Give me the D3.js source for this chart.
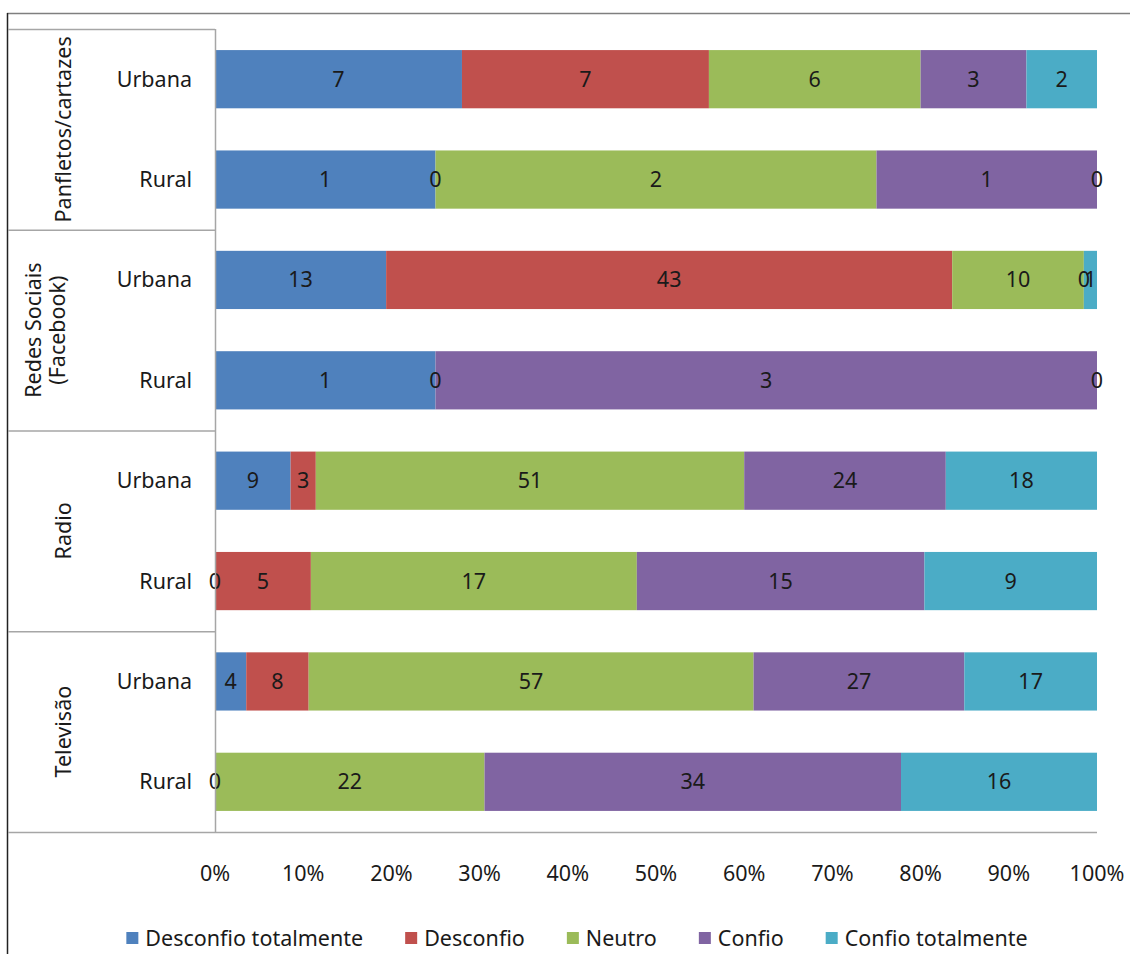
<!DOCTYPE html>
<html>
<head>
<meta charset="utf-8">
<script src="https://cdn.jsdelivr.net/npm/d3@7"></script>
<style>
  body { margin: 0; background: #fff; }
  text { font-family: "Noto Sans", sans-serif; fill: #1a1a1a; }
</style>
</head>
<body>
<div id="chart"></div>
<script>
// categories
const groups = [["Panfletos/cartazes"], ["Redes Sociais", "(Facebook)"], ["Radio"], ["Televisão"]];
const areas = ["Urbana", "Rural"];
const seriesNames = ["Desconfio totalmente", "Desconfio", "Neutro", "Confio", "Confio totalmente"];
const colors = ["#4F81BD", "#C0504D", "#9BBB59", "#8064A2", "#4BACC6"];
const ticks = [0, 0.1, 0.2, 0.3, 0.4, 0.5, 0.6, 0.7, 0.8, 0.9, 1];

// series values, row order: group x (Urbana, Rural); null = no label
const desconfioTotal = [7, 1, 13, 1, 9, 0, 4, 0];
const desconfio      = [7, 0, 43, 0, 3, 5, 8, null];
const neutro         = [6, 2, 10, null, 51, 17, 57, 22];
const confio         = [3, 1, 0, 3, 24, 15, 27, 34];
const confioTotal    = [2, 0, 1, 0, 18, 9, 17, 16];

const seriesVals = [desconfioTotal, desconfio, neutro, confio, confioTotal];

const rows = [];
groups.forEach((g, gi) => areas.forEach((a, ai) => {
  const i = gi * 2 + ai;
  const r = {id: i, area: a};
  seriesNames.forEach((s, si) => r[s] = seriesVals[si][i] == null ? 0 : seriesVals[si][i]);
  rows.push(r);
}));

const W = 1130, H = 954;
const FS = "21.5px";
const svg = d3.select("#chart").append("svg").attr("width", W).attr("height", H);

const x = d3.scaleLinear().domain([0, 1]).range([215, 1097]);
const y = d3.scaleBand().domain(rows.map(d => d.id)).range([29, 832])
  .paddingInner(0.42).paddingOuter(0.21);

const stacked = d3.stack().keys(seriesNames).offset(d3.stackOffsetExpand)(rows);

// frame
svg.append("line").attr("x1", 7).attr("x2", W).attr("y1", 13.5).attr("y2", 13.5)
  .attr("stroke", "#7f7f7f").attr("stroke-width", 1.5);
svg.append("line").attr("x1", 7.5).attr("x2", 7.5).attr("y1", 13).attr("y2", H)
  .attr("stroke", "#222").attr("stroke-width", 1.5);

// bars
const layer = svg.selectAll("g.layer").data(stacked).enter().append("g")
  .attr("class", "layer").attr("fill", (d, i) => colors[i]);
layer.selectAll("rect").data(d => d).enter().append("rect")
  .attr("x", d => x(d[0]))
  .attr("width", d => x(d[1]) - x(d[0]))
  .attr("y", (d, i) => y(i))
  .attr("height", y.bandwidth());

// bar labels
stacked.forEach((s, si) => {
  s.forEach((d, i) => {
    const v = seriesVals[si][i];
    if (v == null) return;
    svg.append("text")
      .attr("x", x((d[0] + d[1]) / 2))
      .attr("y", y(i) + y.bandwidth() / 2)
      .attr("dy", "0.35em")
      .attr("text-anchor", "middle")
      .style("font-size", FS)
      .text(v);
  });
});

// category axis box
const grid = "#a6a6a6";
const bounds = d3.range(groups.length + 1).map(k => y.range()[0] + k * (y.range()[1] - y.range()[0]) / groups.length);
bounds.forEach(b => {
  svg.append("line").attr("x1", 8).attr("x2", b === bounds[bounds.length - 1] ? 1097 : 215)
    .attr("y1", b + 0.5).attr("y2", b + 0.5).attr("stroke", grid).attr("stroke-width", 1.5);
});
svg.append("line").attr("x1", 215.5).attr("x2", 215.5).attr("y1", 29).attr("y2", 832)
  .attr("stroke", grid).attr("stroke-width", 1.5);

// area labels
rows.forEach(d => {
  svg.append("text").attr("x", 192).attr("y", y(d.id) + y.bandwidth() / 2)
    .attr("dy", "0.35em").attr("text-anchor", "end").style("font-size", FS).text(d.area);
});

// group labels (rotated)
groups.forEach((g, gi) => {
  const cy = (bounds[gi] + bounds[gi + 1]) / 2;
  const cx = g.length === 1 ? 63 : 45;
  const t = svg.append("text").attr("transform", `translate(${cx},${cy}) rotate(-90)`)
    .attr("text-anchor", "middle").style("font-size", FS);
  g.forEach((line, li) => {
    t.append("tspan").attr("x", 0).attr("y", (li - (g.length - 1) / 2) * 24).attr("dy", "0.35em").text(line);
  });
});

// x axis ticks
svg.selectAll("text.tick").data(ticks).enter().append("text")
  .attr("class", "tick")
  .attr("x", d => x(d)).attr("y", 873).attr("dy", "0.35em")
  .attr("text-anchor", "middle").style("font-size", FS)
  .text(d3.format(".0%"));

// legend
const leg = svg.append("g");
const gap = 42;
let lx = 0;
seriesNames.forEach((s, i) => {
  const g = leg.append("g").attr("transform", `translate(${lx},0)`);
  g.append("rect").attr("x", 0).attr("y", -6).attr("width", 12).attr("height", 12).attr("fill", colors[i]);
  const t = g.append("text").attr("x", 19).attr("dy", "0.35em").style("font-size", FS).text(s);
  lx += 19 + t.node().getComputedTextLength() + gap;
});
lx -= gap;
leg.attr("transform", `translate(${577 - lx / 2},938)`);
</script>
</body>
</html>
